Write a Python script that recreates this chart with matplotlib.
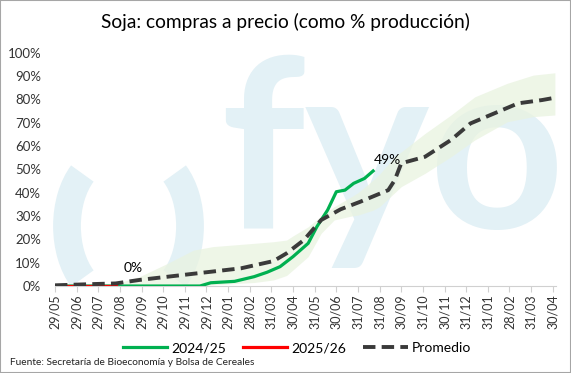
import matplotlib.pyplot as plt
from matplotlib.patches import Rectangle, PathPatch
from matplotlib.path import Path
from matplotlib.transforms import Affine2D

# eje x: indice de mes (0 = 29/05)
meses = ["29/05", "29/06", "29/07", "29/08", "29/09", "29/10", "29/11", "29/12",
         "29/01", "28/02", "31/03", "30/04", "31/05", "30/06", "31/07", "31/08",
         "30/09", "31/10", "30/11", "31/12", "31/01", "28/02", "31/03", "30/04"]

prom_x = [0, 1, 2, 2.8, 3.9, 5.5, 7.0, 8.6, 10.1, 10.7, 11.5, 12.3, 13.2, 14.1,
          15.4, 15.7, 16.0, 17.1, 18.3, 19.2, 20.3, 21.4, 22.5, 23.1]
prom_y = [0.3, 0.6, 0.9, 1.1, 2.6, 4.3, 5.9, 7.6, 10.7, 14.0, 19.7, 28.3, 32.9, 36.1,
          41.1, 45.4, 52.6, 55.4, 62.6, 69.7, 74.0, 78.3, 79.7, 80.7]

c2425_x = [0, 6.7, 7.2, 8.3, 9.2, 9.8, 10.4, 11.0, 11.7, 12.1, 12.6, 13.0, 13.4,
           13.8, 14.3, 14.7]
c2425_y = [0, 0, 1.4, 2.0, 4.0, 5.9, 8.3, 12.6, 18.3, 25.4, 32.6, 40.4, 41.1,
           44.0, 46.1, 49.3]

c2526_x = [0, 2.8]
c2526_y = [0, 0]

banda_x = [0, 2.8, 3.9, 5.2, 6.4, 7.3, 9.2, 10.1, 10.7, 11.0, 11.7, 12.3, 12.9,
           13.7, 14.0, 14.7, 15.0, 15.7, 16.0, 17.1, 18.3, 19.4, 20.9, 22.1, 23.1]
banda_max = [0.5, 1.0, 4.0, 9.7, 15.4, 16.9, 18.3, 19.0, 19.7, 21.5, 25.4, 30.0,
             34.0, 38.3, 40.0, 45.4, 48.0, 55.4, 57.5, 65.4, 73.3, 81.1, 86.9, 90.4, 91.4]
banda_min = [0, 0, 0, 0, 0, 0.5, 1.5, 2.6, 4.5, 6.9, 12.6, 22.6, 28.3,
             30.0, 30.4, 32.5, 34.0, 40.0, 42.6, 48.3, 55.4, 62.6, 70.4, 72.6, 73.3]

fig = plt.figure(figsize=(5.71, 3.73), dpi=100)
fig.patches.append(Rectangle((0, 0), 1, 1, transform=fig.transFigure, fill=False,
                             edgecolor="#a6a6a6", linewidth=1.5))
ax = fig.add_axes([0.0963, 0.2332, 0.8774, 0.6255])
ax.set_facecolor("none")

# marca de agua (logo)
wm = "#e3f1f6"
for cx, t1, t2 in [(1.10, 130, 230), (1.47, -50, 50)]:
    tr = Affine2D().scale(0.43, 0.685).translate(cx, 3.73 - 2.26) + fig.dpi_scale_trans
    ax.add_patch(PathPatch(Path.arc(t1, t2), transform=tr, fill=False, edgecolor=wm,
                           lw=20, capstyle="butt", clip_on=False, zorder=0))
ax.text(0.687, 0.57, "fyo", fontsize=170, color=wm, fontweight="bold", ha="center",
        va="center", family="Lato", transform=fig.transFigure, zorder=0, clip_on=False)

ax.fill_between(banda_x, banda_min, banda_max, color="#e9f3e0", alpha=0.75, linewidth=0, zorder=1)
ax.plot(c2425_x, c2425_y, color="#00b050", lw=2.3, label="2024/25", zorder=3)
ax.plot(c2526_x, c2526_y, color="#ff0000", lw=2.3, label="2025/26", zorder=3)
ax.plot(prom_x, prom_y, color="#3a3a3a", lw=2.8, dashes=(3.2, 1.6), label="Promedio", zorder=4)

ax.text(3.63, 7.7, "0%", fontsize=10, family="Lato", ha="center", va="center", zorder=5)
ax.text(14.75, 54, "49%", fontsize=10, family="Lato", ha="left", va="center", zorder=5)

ax.set_xlim(0, 23.15)
ax.set_ylim(0, 100)
ax.set_xticks(range(len(meses)))
ax.set_xticklabels(meses, rotation=90, fontsize=9, family="Lato", color="#333333")
ax.set_yticks(range(0, 101, 10))
ax.set_yticklabels([f"{v}%" for v in range(0, 101, 10)], fontsize=9.5, family="Lato", color="#333333")
ax.tick_params(axis="y", length=0, pad=10)
ax.tick_params(axis="x", length=4, color="#d0d0d0", pad=2)
for s in ["top", "right", "left"]:
    ax.spines[s].set_visible(False)
ax.spines["bottom"].set_color("#d0d0d0")

fig.text(0.5, 0.94, "Soja: compras a precio (como % producción)", ha="center", va="center",
         fontsize=13.8, family="Lato")
fig.legend(loc="center", bbox_to_anchor=(0.52, 0.067), ncol=3, frameon=False,
           prop={"family": "Lato", "size": 10}, handlelength=3.2, columnspacing=1.2, handletextpad=0.3)
fig.text(0.018, 0.027, "Fuente: Secretaría de Bioeconomía y Bolsa de Cereales", fontsize=7.3,
         family="Lato", color="#222222", va="center")

fig.savefig("out.png", dpi=100)
